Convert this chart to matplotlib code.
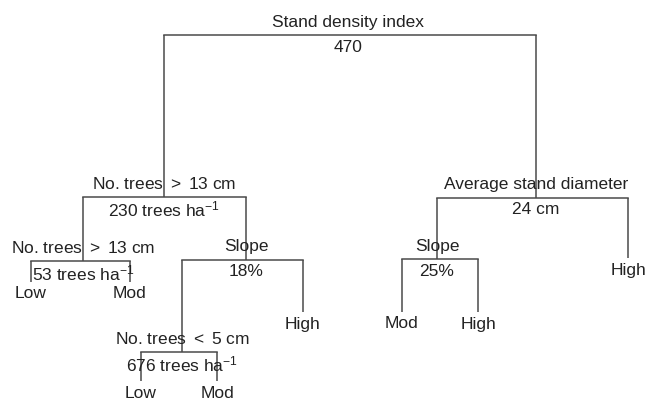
import matplotlib
matplotlib.use("Agg")
import matplotlib.pyplot as plt

plt.rcParams['font.family'] = ['Liberation Sans', 'DejaVu Sans']
plt.rcParams['mathtext.fontset'] = 'custom'
plt.rcParams['mathtext.rm'] = 'Liberation Sans'
plt.rcParams['mathtext.it'] = 'Liberation Sans:italic'
plt.rcParams['mathtext.bf'] = 'Liberation Sans:bold'

# ---- tree data (split nodes) ----
split_names = ["root", "L", "R", "LL", "LR", "LRL", "RL"]
split_labels = ["Stand density index", "No. trees $>$ 13 cm", "Average stand diameter",
                "No. trees $>$ 13 cm", "Slope", "No. trees $<$ 5 cm", "Slope"]
split_values = ["470", "230 trees ha$^{-1}$", "24 cm", "53 trees ha$^{-1}$",
                "18%", "676 trees ha$^{-1}$", "25%"]
split_parent = [None, "root", "root", "L", "L", "LR", "R"]
# node horizontal position and depth (bar level) of each split
split_x = [348, 164, 536, 83, 246, 182, 437]
split_depth = [35, 197, 198, 261, 260, 352, 259]
# children (left, right)
split_children = [("L", "R"), ("LL", "LR"), ("RL", "leafRR"), ("leafLLL", "leafLLR"),
                  ("LRL", "leafLRR"), ("leafLRLL", "leafLRLR"), ("leafRLL", "leafRLR")]

# ---- leaves ----
leaf_names = ["leafLLL", "leafLLR", "leafLRR", "leafLRLL", "leafLRLR", "leafRR", "leafRLL", "leafRLR"]
leaf_labels = ["Low", "Mod", "High", "Low", "Mod", "High", "Mod", "High"]
leaf_parent = ["LL", "LL", "LR", "LRL", "LRL", "R", "RL", "RL"]
leaf_x = [31, 130, 303, 141, 217, 628, 402, 478]
leaf_end = [282, 282, 312, 381, 381, 258, 312, 312]

line_color = "#4a4a4a"
text_color = "#222222"
fs = 12.5

fig = plt.figure(figsize=(6.47, 4.0), dpi=100)
ax = fig.add_axes([0, 0, 1, 1])
ax.set_xlim(0, 647)
ax.set_ylim(400, 0)
ax.axis("off")

pos = {}
for n, x, d in zip(split_names, split_x, split_depth):
    pos[n] = (x, d)
for n, x, d in zip(leaf_names, leaf_x, leaf_end):
    pos[n] = (x, d)

depth_of = dict(zip(split_names, split_depth))

# verticals for splits (from parent bar to own bar)
for n, par in zip(split_names, split_parent):
    if par is None:
        continue
    x, d = pos[n]
    ax.plot([x, x], [depth_of[par], d], color=line_color, lw=1.1, solid_capstyle="butt", zorder=1)

# verticals for leaves
for n, par in zip(leaf_names, leaf_parent):
    x, d = pos[n]
    ax.plot([x, x], [depth_of[par], d], color=line_color, lw=1.1, solid_capstyle="butt", zorder=1)

# horizontal bars
for n, ch in zip(split_names, split_children):
    xl = pos[ch[0]][0]
    xr = pos[ch[1]][0]
    d = depth_of[n]
    ax.plot([xl, xr], [d, d], color=line_color, lw=1.1, solid_capstyle="projecting", zorder=1)

# split labels (above bar) and values (below bar)
for n, lab, val in zip(split_names, split_labels, split_values):
    x, d = pos[n]
    ax.text(x, d - 13, lab, ha="center", va="center", fontsize=fs, color=text_color, zorder=2)
    ax.text(x, d + 12, val, ha="center", va="center", fontsize=fs, color=text_color, zorder=2)

# leaf labels
for n, lab in zip(leaf_names, leaf_labels):
    x, d = pos[n]
    ax.text(x, d + 12, lab, ha="center", va="center", fontsize=fs, color=text_color, zorder=2)

fig.savefig("out.png", dpi=100)
